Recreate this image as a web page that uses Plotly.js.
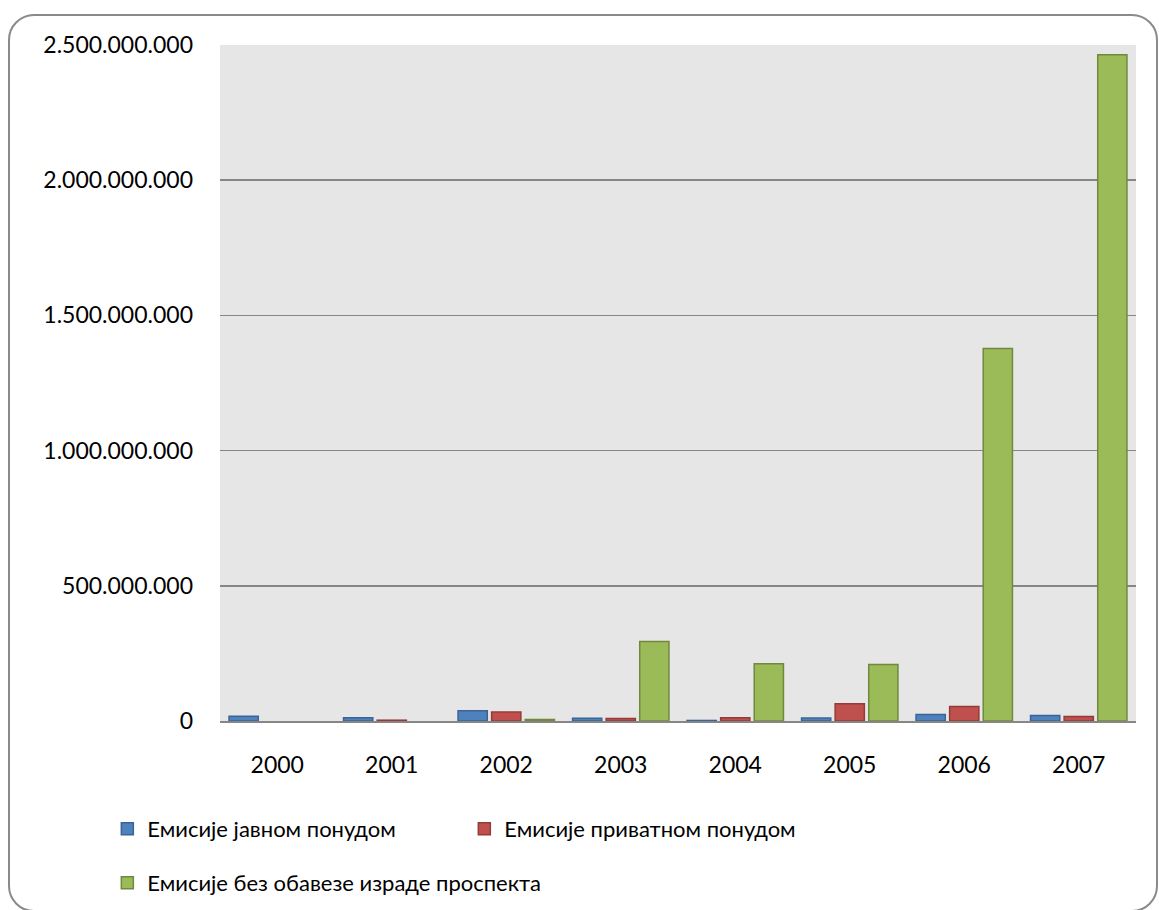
<!DOCTYPE html>
<html>
<head>
<meta charset="utf-8">
<script src="https://cdn.plot.ly/plotly-3.0.1.min.js"></script>
<style>
  html, body { margin: 0; padding: 0; background: #ffffff; width: 1159px; height: 910px; overflow: hidden; }
  #frame { position: absolute; left: 8px; top: 14px; width: 1150px; height: 898px; border: 2px solid #8a8a8a; border-radius: 26px; box-sizing: border-box; }
  #chart { position: absolute; left: 0; top: 0; width: 1159px; height: 910px; }
</style>
</head>
<body>
<div id="frame"></div>
<div id="chart"></div>
<script>
const years = ['2000', '2001', '2002', '2003', '2004', '2005', '2006', '2007'];
const seriesNames = ['Емисије јавном понудом', 'Емисије приватном понудом', 'Емисије без обавезе израде проспекта'];
const publicOffer = [18000000, 12000000, 38000000, 10000000, 2000000, 11000000, 24000000, 20000000];
const privateOffer = [null, 3000000, 33000000, 9000000, 12000000, 64000000, 54000000, 17000000];
const noProspectus = [null, null, 6000000, 294000000, 212000000, 209000000, 1378000000, 2464000000];
const yTicks = [0, 500000000, 1000000000, 1500000000, 2000000000, 2500000000];

const fills = ['#4F81BD', '#C0504D', '#9BBB59'];
const borders = ['#3A6496', '#943B39', '#71893F'];
const values = [publicOffer, privateOffer, noProspectus];
const legendIds = ['legend', 'legend', 'legend2'];

const font = 'Lato, Carlito, Calibri, "Noto Sans", sans-serif';

const traces = values.map((v, i) => ({
  type: 'bar',
  name: seriesNames[i],
  x: years,
  y: v,
  legend: legendIds[i],
  marker: { color: fills[i], line: { color: borders[i], width: 1.5 } },
  hoverinfo: 'x+y+name'
}));

const legendBase = {
  orientation: 'h',
  xanchor: 'left',
  yanchor: 'middle',
  font: { family: font, size: 22, color: '#000000' },
  bgcolor: 'rgba(0,0,0,0)'
};

const layout = {
  width: 1159,
  height: 910,
  paper_bgcolor: 'rgba(0,0,0,0)',
  plot_bgcolor: '#E6E6E6',
  separators: ',.',
  margin: { l: 220, r: 23, t: 45, b: 189, pad: 0, autoexpand: false },
  font: { family: font, size: 23, color: '#000000' },
  barmode: 'group',
  bargap: 0.12,
  bargroupgap: 0.13,
  showlegend: true,
  xaxis: {
    type: 'category',
    showgrid: false,
    showline: true,
    linecolor: '#868686',
    linewidth: 2,
    ticks: '',
    ticklabelstandoff: 22,
    tickfont: { family: font, size: 23, color: '#000000' }
  },
  yaxis: {
    range: [0, 2500000000],
    tickvals: yTicks,
    tickformat: ',d',
    showgrid: true,
    gridcolor: '#868686',
    gridwidth: 1.5,
    zeroline: false,
    showline: false,
    ticks: '',
    ticklabelstandoff: 26,
    tickfont: { family: font, size: 23, color: '#000000' }
  },
  legend: Object.assign({}, legendBase, { x: -0.123, y: (721 - 829) / 676, entrywidth: 312, entrywidthmode: 'pixels' }),
  legend2: Object.assign({}, legendBase, { x: -0.123, y: (721 - 883) / 676 })
};

Plotly.newPlot('chart', traces, layout, { displayModeBar: false, staticPlot: true });
</script>
</body>
</html>
